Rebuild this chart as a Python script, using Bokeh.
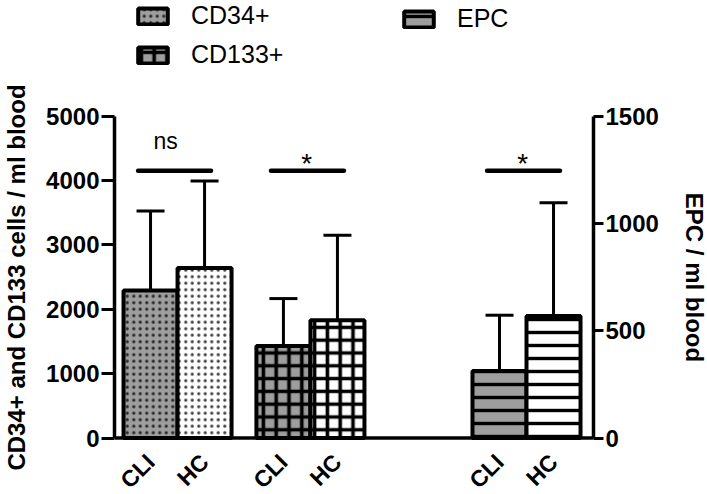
from math import pi
from bokeh.plotting import figure
from bokeh.models import (Range1d, LinearAxis, FixedTicker, Whisker, TeeHead,
                          ColumnDataSource, Legend, LegendItem, Span)
from bokeh.core.properties import value
from bokeh.embed import file_html
from bokeh.resources import INLINE

# ---------------- data ----------------
groups = ["CD34+", "CD133+", "EPC"]
conditions = ["CLI", "HC"]
cd34_mean = [2290, 2640]
cd34_sd = [1235, 1350]
cd133_mean = [1430, 1830]
cd133_sd = [735, 1320]
epc_mean = [312, 568]
epc_sd = [260, 528]
sig_labels = ["ns", "*", "*"]
left_ticks = [0, 1000, 2000, 3000, 4000, 5000]
right_ticks = [0, 500, 1000, 1500]
left_title = "CD34+ and CD133 cells / ml blood"
right_title = "EPC / ml blood"

# ---------------- layout / style ----------------
FONT = "Liberation Sans"
group_start = [0.0, 2.46, 6.46]
bracket_level = 4150
left_max, right_max = 5000, 1500
# The frame covers the whole canvas height (so the legend above the axes and the
# category labels below are not clipped); the value axes span only 0..max.
FRAME_H = 494
AX_TOP_PX, AX_BOT_PX = 115.5, 437.5


def frame_range(vmax):
    upp = vmax / (AX_BOT_PX - AX_TOP_PX)
    return Range1d(-(FRAME_H - AX_BOT_PX) * upp, vmax + AX_TOP_PX * upp)


# axis titles are centred on the frame by Bokeh; pad them with non-breaking
# spaces so the visible words are centred on the 0..max part of the axes
PAD = "\u00a0" * 9
cond_fill = {"CLI": "#9e9e9e", "HC": "white"}
group_hatch = {
    "CD34+": dict(hatch_pattern="dot", hatch_scale=6.5, hatch_weight=1, hatch_alpha=0.75),
    "CD133+": dict(hatch_pattern="cross", hatch_scale=12.8, hatch_weight=3.6),
    "EPC": dict(hatch_pattern="horizontal_line", hatch_scale=13, hatch_weight=3.4),
}
group_range = {"CD34+": "default", "CD133+": "default", "EPC": "epc"}

p = figure(frame_width=479, frame_height=FRAME_H, output_backend="svg",
           toolbar_location=None, x_axis_type=None,
           x_range=Range1d(-0.667, 8.2), y_range=frame_range(left_max),
           min_border_left=108, min_border_right=120, min_border_top=0,
           min_border_bottom=0)
p.extra_y_ranges = {"epc": frame_range(right_max)}
p.outline_line_color = None
p.grid.visible = False
p.background_fill_color = "white"
p.border_fill_color = "white"

means = [cd34_mean, cd133_mean, epc_mean]
sds = [cd34_sd, cd133_sd, epc_sd]
renderers = {}
xticks = []
xlabels = []
for gi, g in enumerate(groups):
    xs = [group_start[gi] + ci for ci in range(len(conditions))]
    xticks += xs
    xlabels += conditions
    src = ColumnDataSource(dict(
        x=xs, top=means[gi],
        upper=[m + s for m, s in zip(means[gi], sds[gi])],
        fill=[cond_fill[c] for c in conditions]))
    renderers[g] = p.vbar(x="x", top="top", bottom=0, width=1.0, source=src,
                          fill_color="fill", line_color="black", line_width=4,
                          hatch_color="black", y_range_name=group_range[g],
                          **group_hatch[g])
    w = Whisker(source=src, base="x", upper="upper", lower="top",
                lower_head=None,
                upper_head=TeeHead(size=28, line_width=3, line_color="black"),
                line_width=3, line_color="black", y_range_name=group_range[g])
    p.add_layout(w)

# baseline (x axis line) and category labels
p.add_layout(Span(location=0, dimension="width", line_color="black", line_width=3.5))
p.text(x=xticks, y=[0] * len(xticks), text=xlabels, angle=pi / 4,
       text_align="right", text_baseline="middle", y_offset=20,
       text_font=value(FONT), text_font_size="23px", text_font_style="bold",
       text_color="black")

# significance brackets
bx0 = [group_start[i] - 0.23 for i in range(len(groups))]
bx1 = [group_start[i] + 1.12 for i in range(len(groups))]
p.segment(x0=bx0, x1=bx1, y0=[bracket_level] * 3, y1=[bracket_level] * 3,
          line_width=4.5, line_color="black", line_cap="round")
for gi, lab in enumerate(sig_labels):
    if lab == "ns":
        p.text(x=[group_start[gi] + 0.28], y=[bracket_level], text=[lab],
               text_align="center", text_baseline="alphabetic", y_offset=-30,
               text_font=value(FONT), text_font_size="23px", text_color="black")
    else:
        p.text(x=[group_start[gi] + 0.43], y=[bracket_level], text=[lab],
               text_align="center", text_baseline="alphabetic", y_offset=-7,
               text_font=value(FONT), text_font_size="28px", text_color="black")


# axes
def style_y(ax, ticks, title, tick_out, standoff):
    ax.ticker = FixedTicker(ticks=ticks)
    ax.bounds = (ticks[0], ticks[-1])
    ax.axis_line_width = 3.5
    ax.major_tick_line_width = 3
    ax.major_tick_out = tick_out
    ax.major_tick_in = 0
    ax.minor_tick_line_color = None
    ax.major_label_text_font = FONT
    ax.major_label_text_font_size = "24px"
    ax.major_label_text_font_style = "bold"
    ax.major_label_text_color = "black"
    ax.major_label_standoff = 2
    ax.axis_label = title
    ax.axis_label_text_font = FONT
    ax.axis_label_text_font_size = "24px"
    ax.axis_label_text_font_style = "bold"
    ax.axis_label_text_color = "black"
    ax.axis_label_standoff = standoff


# left title reads upwards (pad its end); right title reads downwards (pad its start)
style_y(p.yaxis[0], left_ticks, left_title + PAD, 13, 13)
right_axis = LinearAxis(y_range_name="epc")
style_y(right_axis, right_ticks, PAD + right_title, 10, 19)
p.add_layout(right_axis, "right")


# legends (use the CLI bar of each group as swatch)
def make_legend(names, loc):
    return Legend(items=[LegendItem(label=n, renderers=[renderers[n]], index=0) for n in names],
                  location=loc, glyph_width=37, glyph_height=20,
                  label_text_font=FONT, label_text_font_size="25px",
                  label_text_color="black",
                  label_standoff=20, spacing=10, padding=0, margin=0,
                  border_line_color=None, background_fill_alpha=0)


p.add_layout(make_legend(groups[:2], (20, 425)))
p.add_layout(make_legend(groups[2:], (286, 461)))

open("out.html", "w").write(file_html(p, INLINE))
